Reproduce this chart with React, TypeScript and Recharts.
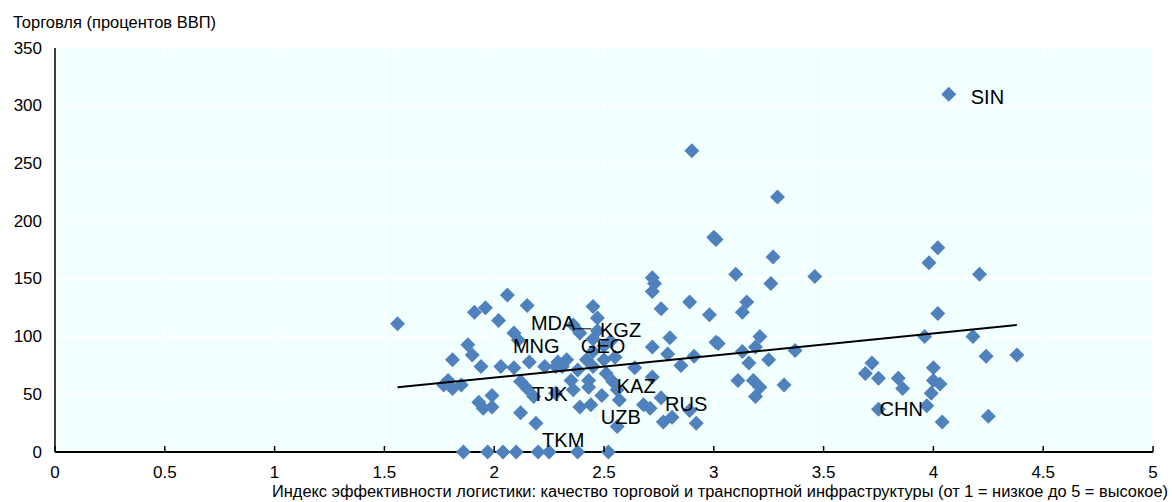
import { CartesianGrid, Scatter, ScatterChart, XAxis, YAxis } from "recharts";

// LPI infrastructure score vs trade (% of GDP)
const ZERO_TRADE: [number, number][] = [
  [1.86, 0], [1.97, 0], [2.04, 0], [2.1, 0], [2.25, 0], [2.38, 0], [2.52, 0],
];

const LOW_LPI: [number, number][] = [
  [1.56, 111], [2.06, 136], [2.15, 127], [1.91, 121], [1.96, 125], [2.02, 114],
  [2.11, 97], [1.88, 93], [1.81, 80], [1.9, 84], [1.94, 74], [2.03, 74],
  [2.09, 73], [2.16, 78], [2.23, 74], [2.28, 74], [1.79, 62], [1.77, 58],
  [1.81, 55], [1.85, 58], [2.12, 61], [2.18, 48], [1.93, 43], [1.99, 49],
  [1.95, 38], [1.99, 39], [2.12, 34], [2.19, 25],
];

const MID_LPI: [number, number][] = [
  [2.45, 126], [2.47, 116], [2.36, 110], [2.72, 151], [2.73, 146], [2.72, 139],
  [2.76, 124], [2.89, 130], [2.98, 119], [3.15, 130], [3.13, 121], [2.8, 99],
  [2.72, 91], [3.01, 95], [3.21, 100], [2.55, 82], [2.79, 85], [2.85, 75],
  [2.91, 83], [3.16, 77], [2.45, 87], [2.42, 80], [2.5, 80], [2.33, 80],
  [2.38, 71], [2.45, 74], [2.51, 68], [2.64, 73], [2.72, 65], [2.43, 62],
  [2.43, 56], [2.36, 54], [2.49, 49], [2.57, 45], [2.39, 39], [2.71, 38],
  [2.77, 26], [2.81, 30], [2.92, 25], [3.11, 62], [3.18, 62], [3.19, 48],
  [2.56, 22], [2.29, 78], [2.31, 74], [2.35, 62], [2.28, 51], [2.56, 54],
  [2.68, 41], [2.89, 36], [2.5, 92], [2.53, 96],
];

const UPPER_LPI: [number, number][] = [
  [2.9, 261], [3.29, 221], [3.0, 186], [3.01, 184], [3.27, 169], [3.46, 152],
  [3.1, 154], [3.26, 146], [3.02, 94], [3.19, 91], [3.13, 87], [3.37, 88],
  [3.25, 80], [3.21, 56], [3.32, 58],
];

const HIGH_LPI: [number, number][] = [
  [4.02, 177], [3.98, 164], [4.21, 154], [4.02, 120], [3.96, 100], [4.18, 100],
  [4.24, 83], [4.38, 84], [3.72, 77], [3.69, 68], [3.75, 64], [3.84, 64],
  [3.86, 55], [4.0, 73], [4.0, 62], [4.03, 59], [3.99, 51], [3.97, 40],
  [4.04, 26], [4.25, 31],
];

const LABEL_NAMES = ["SIN", "CHN", "RUS", "KAZ", "UZB", "TJK", "TKM", "MNG", "GEO", "MDA", "KGZ"];
const LABEL_LPI = [4.07, 3.75, 2.76, 2.54, 2.44, 2.15, 2.2, 2.09, 2.39, 2.47, 2.45];
const LABEL_TRADE = [310, 37, 47, 61, 41, 55, 0, 103, 103, 105, 98];

const TREND_LPI = [1.56, 4.38];
const TREND_TRADE = [56, 110];

const X_TICKS = [0, 0.5, 1, 1.5, 2, 2.5, 3, 3.5, 4, 4.5, 5];
const Y_TICKS = [0, 50, 100, 150, 200, 250, 300, 350];

const Y_TITLE = "Торговля (процентов ВВП)";
const X_TITLE =
  "Индекс эффективности логистики: качество торговой и транспортной инфраструктуры (от 1 = низкое до 5 = высокое)";

// label placement relative to the marker, in px
const LABEL_OFFSET: Record<string, [number, number]> = {
  SIN: [22, 3],
  CHN: [1, 0],
  RUS: [4, 6],
  KAZ: [4, 4],
  UZB: [10, 12],
  TJK: [5, 5],
  TKM: [4, -12],
  MNG: [-1, 13],
  GEO: [1, 13],
  MDA: [-22, -8],
  KGZ: [7, -9],
};

const BLUE = "#4F81BD";
const SANS = "'Liberation Sans', Arial, sans-serif";

const toPoints = (rows: [number, number][]) => rows.map(([x, y]) => ({ x, y }));
const allPoints = toPoints([...ZERO_TRADE, ...LOW_LPI, ...MID_LPI, ...UPPER_LPI, ...HIGH_LPI]);
const labelled = LABEL_NAMES.map((name, i) => ({ name, x: LABEL_LPI[i], y: LABEL_TRADE[i] }));
const trend = TREND_LPI.map((x, i) => ({ x, y: TREND_TRADE[i] }));

function Diamond({ cx, cy }: any) {
  const r = 7.5;
  return <path d={`M${cx},${cy - r}L${cx + r},${cy}L${cx},${cy + r}L${cx - r},${cy}Z`} fill={BLUE} />;
}

function LabelledPoint(props: any) {
  const { cx, cy, payload } = props;
  const [dx, dy] = LABEL_OFFSET[payload.name];
  const isMda = payload.name === "MDA";
  return (
    <g>
      <Diamond cx={cx} cy={cy} />
      {isMda && <line x1={cx - 22} x2={cx - 6} y1={cy - 2} y2={cy - 2} stroke="#000" strokeWidth={1} />}
      <text
        x={cx + dx}
        y={cy + dy}
        textAnchor={isMda ? "end" : "start"}
        dominantBaseline="central"
        fontFamily={SANS}
        fontSize={20}
        fill="#000"
      >
        {payload.name}
      </text>
    </g>
  );
}

function XTick({ x, y, payload }: any) {
  return (
    <g>
      <line x1={x} x2={x} y1={y} y2={y - 6} stroke="#000" strokeWidth={1.5} />
      <text x={x} y={y + 20} textAnchor="middle" dominantBaseline="central" fontFamily={SANS} fontSize={17} fill="#000">
        {payload.value}
      </text>
    </g>
  );
}

function YTick({ x, y, payload }: any) {
  return (
    <text x={x - 13} y={y} textAnchor="end" dominantBaseline="central" fontFamily={SANS} fontSize={17} fill="#000">
      {payload.value}
    </text>
  );
}

export default function App() {
  return (
    <div style={{ position: "absolute", left: 0, top: 0, width: 1172, height: 502, background: "#fff" }}>
      <ScatterChart width={1172} height={502} margin={{ top: 48, right: 19, bottom: 0, left: 0 }}>
        <CartesianGrid fill="#F2FFFF" stroke="#fff" strokeWidth={1.5} />
        <XAxis
          type="number"
          dataKey="x"
          domain={[0, 5]}
          ticks={X_TICKS}
          height={50}
          tickSize={0}
          tickMargin={0}
          tickLine={false}
          tick={<XTick />}
          axisLine={{ stroke: "#000", strokeWidth: 2 }}
          interval={0}
        />
        <XAxis xAxisId="top" orientation="top" type="number" domain={[0, 5]} height={0} tick={false} tickLine={false} axisLine={{ stroke: "#000", strokeWidth: 1.5 }} />
        <YAxis
          type="number"
          dataKey="y"
          domain={[0, 350]}
          ticks={Y_TICKS}
          width={55}
          tickSize={0}
          tickMargin={0}
          tickLine={false}
          tick={<YTick />}
          axisLine={{ stroke: "#000", strokeWidth: 1.5 }}
          interval={0}
        />
        <YAxis yAxisId="right" orientation="right" type="number" domain={[0, 350]} width={0} tick={false} tickLine={false} axisLine={{ stroke: "#000", strokeWidth: 1.5 }} />
        <Scatter data={allPoints} shape={<Diamond />} isAnimationActive={false} />
        <Scatter data={trend} line={{ stroke: "#000", strokeWidth: 2 }} shape={() => <g />} isAnimationActive={false} />
        <Scatter data={labelled} shape={<LabelledPoint />} isAnimationActive={false} />
      </ScatterChart>
      <svg width={1172} height={502} style={{ position: "absolute", left: 0, top: 0, pointerEvents: "none" }}>
        <text x={13} y={22} dominantBaseline="central" fontFamily={SANS} fontSize={17} textLength={203} lengthAdjust="spacingAndGlyphs">
          {Y_TITLE}
        </text>
        <text x={272} y={491} dominantBaseline="central" fontFamily={SANS} fontSize={16} textLength={896} lengthAdjust="spacingAndGlyphs">
          {X_TITLE}
        </text>
      </svg>
    </div>
  );
}
